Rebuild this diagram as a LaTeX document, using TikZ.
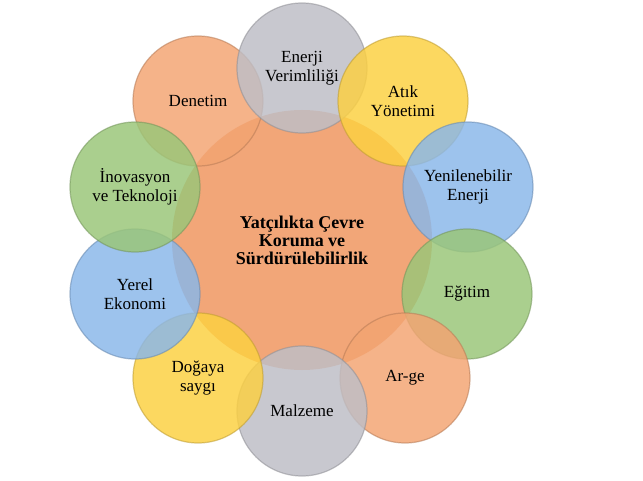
\documentclass[tikz,border=0pt]{standalone}
\usepackage{fontspec}
\setmainfont{Liberation Serif}
\definecolor{cOrange}{RGB}{243,164,114}
\definecolor{cCenter}{RGB}{242,166,120}
\definecolor{cGray}{RGB}{190,190,198}
\definecolor{cYellow}{RGB}{252,208,66}
\definecolor{cBlue}{RGB}{138,183,233}
\definecolor{cGreen}{RGB}{154,198,120}
\tikzset{
  bubble/.style={circle, minimum size=130pt, inner sep=0pt, fill=#1, fill opacity=0.84,
    draw=#1!75!black, draw opacity=0.55, line width=1.2pt, text opacity=1,
    align=center, font=\fontsize{17}{18.5}\selectfont, text=black},
  hub/.style={circle, minimum size=260pt, inner sep=0pt, fill=cCenter, draw=none,
    align=center, font=\fontsize{18}{18}\selectfont\bfseries, text=black}
}
\begin{document}
\begin{tikzpicture}[x=1pt,y=-1pt]
\useasboundingbox (0,0) rectangle (643,481);
\node[hub] (c) at (302,240) {Yatçılıkta Çevre\\Koruma ve\\Sürdürülebilirlik};
\node[bubble=cOrange] (den) at (198,101) {Denetim};
\node[bubble=cGray] (ene) at (302,68) {Enerji\\Verimliliği};
\node[bubble=cYellow] (atik) at (403,101) {Atık\\Yönetimi};
\node[bubble=cBlue] (yen) at (468,187) {Yenilenebilir\\Enerji};
\node[bubble=cGreen] (egi) at (467,294) {Eğitim};
\node[bubble=cOrange] (arge) at (405,378) {Ar-ge};
\node[bubble=cGray] (mal) at (302,411) {Malzeme};
\node[bubble=cYellow] (dog) at (198,378) {Doğaya\\saygı};
\node[bubble=cBlue] (yer) at (135,294) {Yerel\\Ekonomi};
\node[bubble=cGreen] (ino) at (135,187) {İnovasyon\\ve Teknoloji};
\end{tikzpicture}
\end{document}
